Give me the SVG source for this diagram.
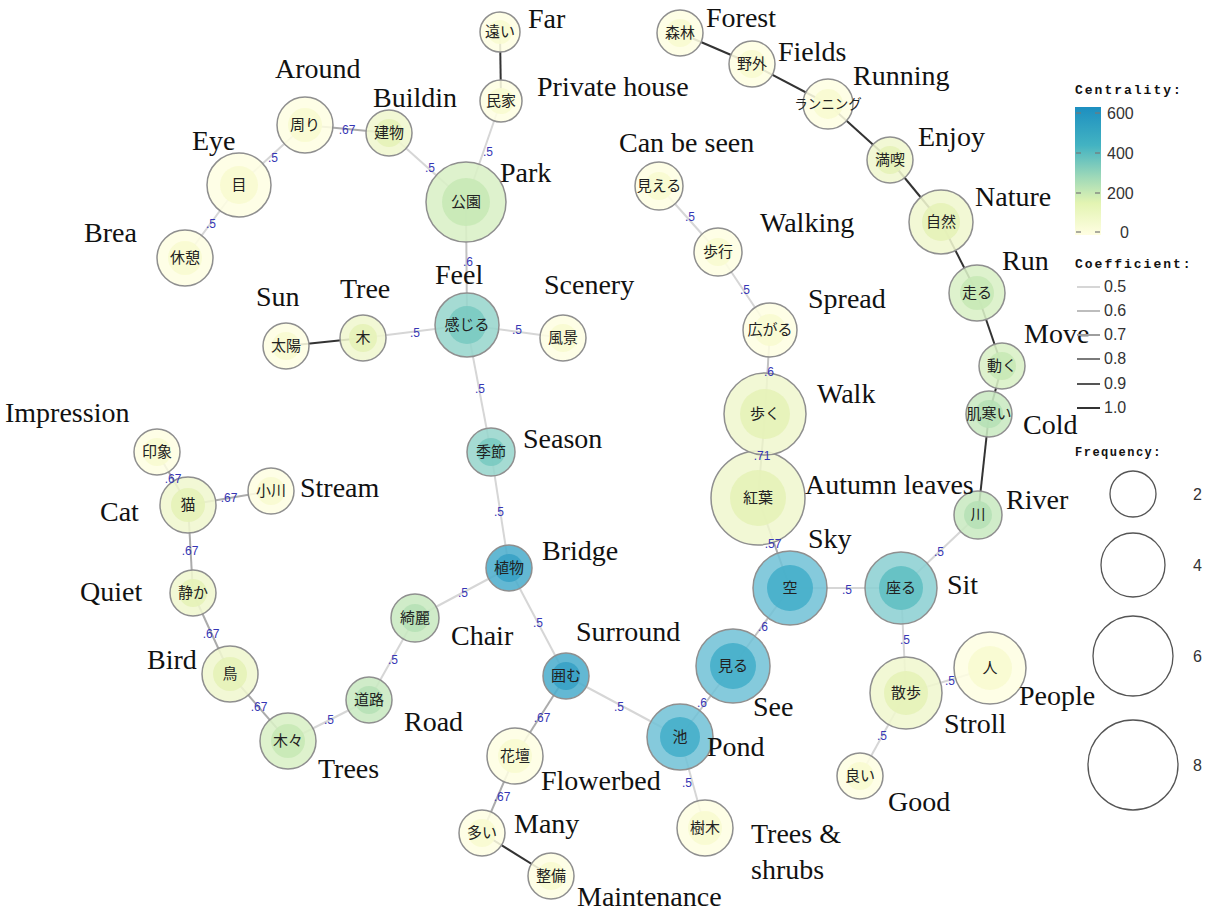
<svg xmlns="http://www.w3.org/2000/svg" width="1209" height="912" viewBox="0 0 1209 912">
  <style>
    .en { font-family: "Liberation Serif", "Times New Roman", serif; font-size: 28px; fill: #111; }
    .jp { font-family: "Noto Sans CJK JP", "Noto Sans CJK SC", sans-serif; font-size: 15px; fill: #222; text-anchor: middle; }
    .co { font-family: "Liberation Sans", Arial, sans-serif; font-size: 12px; fill: #3636b4; text-anchor: middle; }
    .lt { font-family: "Liberation Mono", "DejaVu Sans Mono", monospace; font-size: 13px; font-weight: bold; fill: #111; letter-spacing: 2px; }
    .lv { font-family: "Liberation Sans", Arial, sans-serif; font-size: 16px; fill: #333; }
    .out { stroke: #8f8f8f; stroke-width: 1.5; fill-opacity: 0.88; }
    .in { stroke: none; fill-opacity: 0.9; }
    .e { fill: none; stroke-width: 2; }
    .w5 { stroke: #d6d6d6; }
    .w6 { stroke: #c2c2c2; }
    .w67 { stroke: #ababab; }
    .w71 { stroke: #a2a2a2; }
    .w10 { stroke: #333333; }
    .c0 .out { fill: #fefee3; } .c0 .in { fill: #f8fbd0; }
    .c1 .out { fill: #f0f7cf; } .c1 .in { fill: #e6f2b8; }
    .c2 .out { fill: #d9f0c6; } .c2 .in { fill: #c8e9b6; }
    .c3 .out { fill: #c9e9c2; } .c3 .in { fill: #b6e1b6; }
    .c4 .out { fill: #98d6cd; } .c4 .in { fill: #7acac1; }
    .c5 .out { fill: #8dd0d3; } .c5 .in { fill: #62c0c3; }
    .c6 .out { fill: #74c3d7; } .c6 .in { fill: #46afca; }
    .c7 .out { fill: #4daecd; } .c7 .in { fill: #38a2c5; }
  </style>
  <defs>
    <linearGradient id="centrality" x1="0" y1="0" x2="0" y2="1">
      <stop offset="0" stop-color="#1d8fc0"/>
      <stop offset="0.3" stop-color="#43b3c2"/>
      <stop offset="0.55" stop-color="#9fd9b8"/>
      <stop offset="0.75" stop-color="#e3f4b2"/>
      <stop offset="1" stop-color="#fffee2"/>
    </linearGradient>
  </defs>
  <rect width="1209" height="912" fill="#ffffff"/>

  <!-- connectors -->
  <g id="edges">
    <line class="e w10" x1="500" y1="32" x2="501" y2="101"/>
    <line class="e w5" x1="501" y1="101" x2="466" y2="202"/>
    <line class="e w5" x1="389" y1="133" x2="466" y2="202"/>
    <line class="e w67" x1="305" y1="125" x2="389" y2="133"/>
    <line class="e w5" x1="305" y1="125" x2="239" y2="185"/>
    <line class="e w5" x1="239" y1="185" x2="185" y2="258"/>
    <line class="e w6" x1="466" y1="202" x2="467" y2="325"/>
    <line class="e w10" x1="286" y1="346" x2="363" y2="338"/>
    <line class="e w5" x1="363" y1="338" x2="467" y2="325"/>
    <line class="e w5" x1="467" y1="325" x2="563" y2="338"/>
    <line class="e w5" x1="467" y1="325" x2="491" y2="452"/>
    <line class="e w5" x1="491" y1="452" x2="509" y2="568"/>
    <line class="e w5" x1="509" y1="568" x2="415" y2="618"/>
    <line class="e w5" x1="415" y1="618" x2="369" y2="700"/>
    <line class="e w5" x1="369" y1="700" x2="288" y2="741"/>
    <line class="e w67" x1="288" y1="741" x2="230" y2="674"/>
    <line class="e w67" x1="230" y1="674" x2="193" y2="593"/>
    <line class="e w67" x1="193" y1="593" x2="188" y2="505"/>
    <line class="e w67" x1="188" y1="505" x2="157" y2="452"/>
    <line class="e w67" x1="188" y1="505" x2="271" y2="491"/>
    <line class="e w5" x1="509" y1="568" x2="566" y2="676"/>
    <line class="e w67" x1="566" y1="676" x2="515" y2="756"/>
    <line class="e w67" x1="515" y1="756" x2="482" y2="833"/>
    <line class="e w10" x1="482" y1="833" x2="551" y2="876"/>
    <line class="e w5" x1="566" y1="676" x2="680" y2="737"/>
    <line class="e w6" x1="680" y1="737" x2="733" y2="666"/>
    <line class="e w5" x1="680" y1="737" x2="705" y2="828"/>
    <line class="e w6" x1="733" y1="666" x2="790" y2="588"/>
    <line class="e w67" x1="790" y1="588" x2="758" y2="498"/>
    <line class="e w5" x1="790" y1="588" x2="901" y2="588"/>
    <line class="e w71" x1="758" y1="498" x2="765" y2="414"/>
    <line class="e w6" x1="765" y1="414" x2="770" y2="330"/>
    <line class="e w5" x1="770" y1="330" x2="718" y2="252"/>
    <line class="e w5" x1="718" y1="252" x2="659" y2="186"/>
    <line class="e w5" x1="901" y1="588" x2="978" y2="515"/>
    <line class="e w5" x1="901" y1="588" x2="906" y2="693"/>
    <line class="e w5" x1="906" y1="693" x2="990" y2="668"/>
    <line class="e w5" x1="906" y1="693" x2="860" y2="776"/>
    <line class="e w10" x1="978" y1="515" x2="989" y2="414"/>
    <line class="e w10" x1="989" y1="414" x2="1002" y2="366"/>
    <line class="e w10" x1="1002" y1="366" x2="977" y2="293"/>
    <line class="e w10" x1="977" y1="293" x2="941" y2="222"/>
    <line class="e w10" x1="941" y1="222" x2="890" y2="160"/>
    <line class="e w10" x1="890" y1="160" x2="828" y2="104"/>
    <line class="e w10" x1="828" y1="104" x2="752" y2="64"/>
    <line class="e w10" x1="752" y1="64" x2="680" y2="33"/>
  </g>

  <!-- nodes -->
  <g id="n-tooi" class="c0" transform="translate(500 32)"><circle class="out" r="20"/><circle class="in" r="12"/><text class="jp" y="5">遠い</text></g>
  <g id="n-minka" class="c0" transform="translate(501 101)"><circle class="out" r="21"/><circle class="in" r="13"/><text class="jp" y="5">民家</text></g>
  <g id="n-shinrin" class="c0" transform="translate(680 33)"><circle class="out" r="23"/><circle class="in" r="14"/><text class="jp" y="5">森林</text></g>
  <g id="n-yagai" class="c0" transform="translate(752 64)"><circle class="out" r="23"/><circle class="in" r="14"/><text class="jp" y="5">野外</text></g>
  <g id="n-running" class="c0" transform="translate(828 104)"><circle class="out" r="25"/><circle class="in" r="15"/><text class="jp" y="5" style="font-size:13.5px">ランニング</text></g>
  <g id="n-mankitsu" class="c1" transform="translate(890 160)"><circle class="out" r="23"/><circle class="in" r="14"/><text class="jp" y="5">満喫</text></g>
  <g id="n-shizen" class="c1" transform="translate(941 222)"><circle class="out" r="32"/><circle class="in" r="19"/><text class="jp" y="5">自然</text></g>
  <g id="n-hashiru" class="c2" transform="translate(977 293)"><circle class="out" r="28"/><circle class="in" r="17"/><text class="jp" y="5">走る</text></g>
  <g id="n-ugoku" class="c2" transform="translate(1002 366)"><circle class="out" r="23"/><circle class="in" r="14"/><text class="jp" y="5">動く</text></g>
  <g id="n-hadasamui" class="c3" transform="translate(989 414)"><circle class="out" r="23"/><circle class="in" r="14"/><text class="jp" y="5">肌寒い</text></g>
  <g id="n-kawa" class="c3" transform="translate(978 515)"><circle class="out" r="24"/><circle class="in" r="14"/><text class="jp" y="5">川</text></g>
  <g id="n-suwaru" class="c5" transform="translate(901 588)"><circle class="out" r="36"/><circle class="in" r="22"/><text class="jp" y="5">座る</text></g>
  <g id="n-sanpo" class="c1" transform="translate(906 693)"><circle class="out" r="36"/><circle class="in" r="22"/><text class="jp" y="5">散歩</text></g>
  <g id="n-hito" class="c0" transform="translate(990 668)"><circle class="out" r="36"/><circle class="in" r="22"/><text class="jp" y="5">人</text></g>
  <g id="n-yoi" class="c0" transform="translate(860 776)"><circle class="out" r="23"/><circle class="in" r="14"/><text class="jp" y="5">良い</text></g>
  <g id="n-sora" class="c6" transform="translate(790 588)"><circle class="out" r="37"/><circle class="in" r="23"/><text class="jp" y="5">空</text></g>
  <g id="n-miru" class="c6" transform="translate(733 666)"><circle class="out" r="37"/><circle class="in" r="23"/><text class="jp" y="5">見る</text></g>
  <g id="n-ike" class="c6" transform="translate(680 737)"><circle class="out" r="33"/><circle class="in" r="20"/><text class="jp" y="5">池</text></g>
  <g id="n-jumoku" class="c0" transform="translate(705 828)"><circle class="out" r="28"/><circle class="in" r="17"/><text class="jp" y="5">樹木</text></g>
  <g id="n-kakomu" class="c7" transform="translate(566 676)"><circle class="out" r="23"/><circle class="in" r="14"/><text class="jp" y="5">囲む</text></g>
  <g id="n-kadan" class="c0" transform="translate(515 756)"><circle class="out" r="28"/><circle class="in" r="17"/><text class="jp" y="5">花壇</text></g>
  <g id="n-ooi" class="c0" transform="translate(482 833)"><circle class="out" r="23"/><circle class="in" r="14"/><text class="jp" y="5">多い</text></g>
  <g id="n-seibi" class="c0" transform="translate(551 876)"><circle class="out" r="23"/><circle class="in" r="14"/><text class="jp" y="5">整備</text></g>
  <g id="n-kouyou" class="c1" transform="translate(758 498)"><circle class="out" r="47"/><circle class="in" r="28"/><text class="jp" y="5">紅葉</text></g>
  <g id="n-aruku" class="c1" transform="translate(765 414)"><circle class="out" r="41"/><circle class="in" r="25"/><text class="jp" y="5">歩く</text></g>
  <g id="n-hirogaru" class="c0" transform="translate(770 330)"><circle class="out" r="27"/><circle class="in" r="16"/><text class="jp" y="5">広がる</text></g>
  <g id="n-hokou" class="c0" transform="translate(718 252)"><circle class="out" r="24"/><circle class="in" r="14"/><text class="jp" y="5">歩行</text></g>
  <g id="n-mieru" class="c0" transform="translate(659 186)"><circle class="out" r="24"/><circle class="in" r="14"/><text class="jp" y="5">見える</text></g>
  <g id="n-kouen" class="c2" transform="translate(466 202)"><circle class="out" r="40"/><circle class="in" r="24"/><text class="jp" y="5">公園</text></g>
  <g id="n-kanjiru" class="c4" transform="translate(467 325)"><circle class="out" r="32"/><circle class="in" r="19"/><text class="jp" y="5">感じる</text></g>
  <g id="n-fuukei" class="c0" transform="translate(563 338)"><circle class="out" r="23"/><circle class="in" r="14"/><text class="jp" y="5">風景</text></g>
  <g id="n-ki" class="c1" transform="translate(363 338)"><circle class="out" r="23"/><circle class="in" r="14"/><text class="jp" y="5">木</text></g>
  <g id="n-taiyou" class="c0" transform="translate(286 346)"><circle class="out" r="23"/><circle class="in" r="14"/><text class="jp" y="5">太陽</text></g>
  <g id="n-kisetsu" class="c4" transform="translate(491 452)"><circle class="out" r="24"/><circle class="in" r="14"/><text class="jp" y="5">季節</text></g>
  <g id="n-shokubutsu" class="c7" transform="translate(509 568)"><circle class="out" r="23"/><circle class="in" r="14"/><text class="jp" y="5">植物</text></g>
  <g id="n-kirei" class="c3" transform="translate(415 618)"><circle class="out" r="24"/><circle class="in" r="14"/><text class="jp" y="5">綺麗</text></g>
  <g id="n-douro" class="c3" transform="translate(369 700)"><circle class="out" r="23"/><circle class="in" r="14"/><text class="jp" y="5">道路</text></g>
  <g id="n-kigi" class="c2" transform="translate(288 741)"><circle class="out" r="28"/><circle class="in" r="17"/><text class="jp" y="5">木々</text></g>
  <g id="n-tori" class="c1" transform="translate(230 674)"><circle class="out" r="28"/><circle class="in" r="17"/><text class="jp" y="5">鳥</text></g>
  <g id="n-shizuka" class="c1" transform="translate(193 593)"><circle class="out" r="23"/><circle class="in" r="14"/><text class="jp" y="5">静か</text></g>
  <g id="n-neko" class="c1" transform="translate(188 505)"><circle class="out" r="28"/><circle class="in" r="17"/><text class="jp" y="5">猫</text></g>
  <g id="n-inshou" class="c0" transform="translate(157 452)"><circle class="out" r="23"/><circle class="in" r="14"/><text class="jp" y="5">印象</text></g>
  <g id="n-ogawa" class="c0" transform="translate(271 491)"><circle class="out" r="23"/><circle class="in" r="14"/><text class="jp" y="5">小川</text></g>
  <g id="n-tatemono" class="c1" transform="translate(389 133)"><circle class="out" r="23"/><circle class="in" r="14"/><text class="jp" y="5">建物</text></g>
  <g id="n-mawari" class="c0" transform="translate(305 125)"><circle class="out" r="28"/><circle class="in" r="17"/><text class="jp" y="5">周り</text></g>
  <g id="n-me" class="c0" transform="translate(239 185)"><circle class="out" r="32"/><circle class="in" r="19"/><text class="jp" y="5">目</text></g>
  <g id="n-kyuukei" class="c0" transform="translate(185 258)"><circle class="out" r="28"/><circle class="in" r="17"/><text class="jp" y="5">休憩</text></g>

  <!-- coefficient labels -->
  <g id="coefficients">
    <text class="co" x="488" y="156">.5</text>
    <text class="co" x="430" y="172">.5</text>
    <text class="co" x="347" y="134">.67</text>
    <text class="co" x="273" y="162">.5</text>
    <text class="co" x="211" y="228">.5</text>
    <text class="co" x="468" y="266">.6</text>
    <text class="co" x="415" y="337">.5</text>
    <text class="co" x="517" y="334">.5</text>
    <text class="co" x="480" y="393">.5</text>
    <text class="co" x="499" y="516">.5</text>
    <text class="co" x="463" y="597">.5</text>
    <text class="co" x="393" y="664">.5</text>
    <text class="co" x="329" y="724">.5</text>
    <text class="co" x="259" y="711">.67</text>
    <text class="co" x="211" y="638">.67</text>
    <text class="co" x="190" y="555">.67</text>
    <text class="co" x="173" y="483">.67</text>
    <text class="co" x="229" y="502">.67</text>
    <text class="co" x="538" y="627">.5</text>
    <text class="co" x="542" y="722">.67</text>
    <text class="co" x="502" y="801">.67</text>
    <text class="co" x="619" y="711">.5</text>
    <text class="co" x="702" y="707">.6</text>
    <text class="co" x="687" y="787">.5</text>
    <text class="co" x="763" y="631">.6</text>
    <text class="co" x="773" y="548">.57</text>
    <text class="co" x="847" y="594">.5</text>
    <text class="co" x="762" y="460">.71</text>
    <text class="co" x="769" y="376">.6</text>
    <text class="co" x="745" y="294">.5</text>
    <text class="co" x="690" y="221">.5</text>
    <text class="co" x="939" y="556">.5</text>
    <text class="co" x="905" y="644">.5</text>
    <text class="co" x="950" y="685">.5</text>
    <text class="co" x="882" y="740">.5</text>
  </g>

  <!-- English glosses -->
  <g id="glosses">
    <text class="en" x="528" y="28">Far</text>
    <text class="en" x="537" y="96">Private house</text>
    <text class="en" x="706" y="27">Forest</text>
    <text class="en" x="778" y="61">Fields</text>
    <text class="en" x="853" y="85">Running</text>
    <text class="en" x="918" y="146">Enjoy</text>
    <text class="en" x="975" y="206">Nature</text>
    <text class="en" x="1002" y="270">Run</text>
    <text class="en" x="1024" y="343">Move</text>
    <text class="en" x="1023" y="434">Cold</text>
    <text class="en" x="1006" y="509">River</text>
    <text class="en" x="947" y="594">Sit</text>
    <text class="en" x="944" y="733">Stroll</text>
    <text class="en" x="1019" y="705">People</text>
    <text class="en" x="888" y="811">Good</text>
    <text class="en" x="808" y="548">Sky</text>
    <text class="en" x="753" y="716">See</text>
    <text class="en" x="707" y="756">Pond</text>
    <text class="en" x="751" y="843">Trees &amp;</text>
    <text class="en" x="751" y="879">shrubs</text>
    <text class="en" x="576" y="641">Surround</text>
    <text class="en" x="541" y="790">Flowerbed</text>
    <text class="en" x="514" y="833">Many</text>
    <text class="en" x="577" y="906">Maintenance</text>
    <text class="en" x="805" y="494">Autumn leaves</text>
    <text class="en" x="817" y="403">Walk</text>
    <text class="en" x="808" y="308">Spread</text>
    <text class="en" x="760" y="232">Walking</text>
    <text class="en" x="619" y="152">Can be seen</text>
    <text class="en" x="500" y="182">Park</text>
    <text class="en" x="435" y="284">Feel</text>
    <text class="en" x="544" y="294">Scenery</text>
    <text class="en" x="340" y="298">Tree</text>
    <text class="en" x="256" y="306">Sun</text>
    <text class="en" x="523" y="448">Season</text>
    <text class="en" x="542" y="560">Bridge</text>
    <text class="en" x="451" y="645">Chair</text>
    <text class="en" x="404" y="731">Road</text>
    <text class="en" x="318" y="778">Trees</text>
    <text class="en" x="147" y="669">Bird</text>
    <text class="en" x="80" y="601">Quiet</text>
    <text class="en" x="100" y="521">Cat</text>
    <text class="en" x="5" y="422">Impression</text>
    <text class="en" x="300" y="497">Stream</text>
    <text class="en" x="373" y="107">Buildin</text>
    <text class="en" x="275" y="78">Around</text>
    <text class="en" x="192" y="150">Eye</text>
    <text class="en" x="84" y="242">Brea</text>
  </g>

  <!-- legend -->
  <g id="legend">
    <text class="lt" x="1075" y="94">Centrality:</text>
    <rect x="1075" y="107" width="26" height="128" fill="url(#centrality)"/>
    <g stroke="#777" stroke-width="1.2">
      <line x1="1076" y1="113" x2="1081" y2="113"/><line x1="1095" y1="113" x2="1100" y2="113"/>
      <line x1="1076" y1="153" x2="1081" y2="153"/><line x1="1095" y1="153" x2="1100" y2="153"/>
      <line x1="1076" y1="193" x2="1081" y2="193"/><line x1="1095" y1="193" x2="1100" y2="193"/>
      <line x1="1076" y1="232" x2="1081" y2="232"/><line x1="1095" y1="232" x2="1100" y2="232"/>
    </g>
    <text class="lv" x="1107" y="119">600</text>
    <text class="lv" x="1107" y="159">400</text>
    <text class="lv" x="1107" y="199">200</text>
    <text class="lv" x="1120" y="238">0</text>

    <text class="lt" x="1075" y="268">Coefficient:</text>
    <line x1="1077" y1="287" x2="1100" y2="287" stroke="#d6d6d6" stroke-width="2"/>
    <line x1="1077" y1="311" x2="1100" y2="311" stroke="#bdbdbd" stroke-width="2"/>
    <line x1="1077" y1="335" x2="1100" y2="335" stroke="#9e9e9e" stroke-width="2"/>
    <line x1="1077" y1="359" x2="1100" y2="359" stroke="#7a7a7a" stroke-width="2"/>
    <line x1="1077" y1="384" x2="1100" y2="384" stroke="#555" stroke-width="2"/>
    <line x1="1077" y1="408" x2="1100" y2="408" stroke="#333" stroke-width="2"/>
    <text class="lv" x="1104" y="292">0.5</text>
    <text class="lv" x="1104" y="316">0.6</text>
    <text class="lv" x="1104" y="340">0.7</text>
    <text class="lv" x="1104" y="364">0.8</text>
    <text class="lv" x="1104" y="389">0.9</text>
    <text class="lv" x="1104" y="413">1.0</text>

    <text class="lt" x="1075" y="456" style="font-size:12px;letter-spacing:1.5px">Frequency:</text>
    <g fill="none" stroke="#555" stroke-width="1.3">
      <circle cx="1133" cy="494" r="23"/>
      <circle cx="1133" cy="565" r="32"/>
      <circle cx="1133" cy="656" r="40"/>
      <circle cx="1133" cy="765" r="45"/>
    </g>
    <text class="lv" x="1193" y="500">2</text>
    <text class="lv" x="1193" y="571">4</text>
    <text class="lv" x="1193" y="662">6</text>
    <text class="lv" x="1193" y="771">8</text>
  </g>
</svg>
